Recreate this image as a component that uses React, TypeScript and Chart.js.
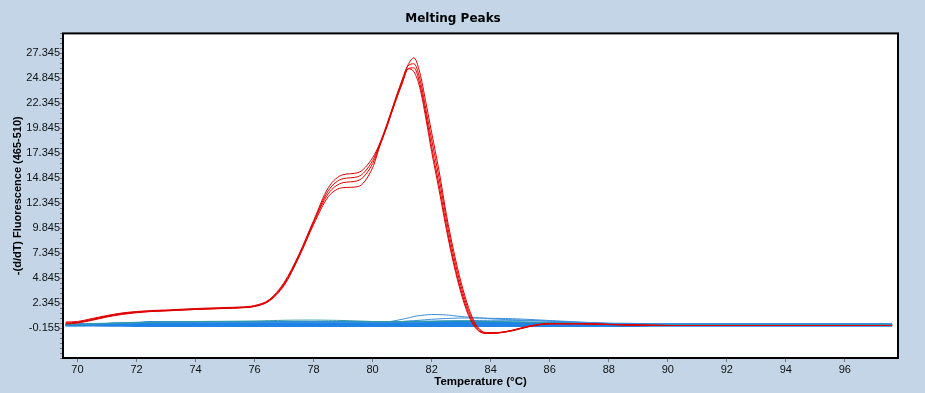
import { useEffect, useRef } from 'react';
import { Chart, registerables } from 'chart.js';

Chart.register(...registerables);

const chartTitle = 'Melting Peaks';
const xAxisTitle = 'Temperature (°C)';
const yAxisTitle = '-(d/dT) Fluorescence (465-510)';

const xTicks = [70, 72, 74, 76, 78, 80, 82, 84, 86, 88, 90, 92, 94, 96];
const yTicks = [-0.155, 2.345, 4.845, 7.345, 9.845, 12.345, 14.845, 17.345, 19.845, 22.345, 24.845, 27.345];
const yTickLabels = ['-0.155', '2.345', '4.845', '7.345', '9.845', '12.345', '14.845', '17.345', '19.845', '22.345', '24.845', '27.345'];

// Red samples (4 replicates)
const redTemps = [69.6, 70, 70.5, 71, 71.5, 72, 72.5, 73, 74, 75, 75.5, 76, 76.5, 77, 77.5, 78, 78.5, 79, 79.5, 80,
  80.25, 80.5, 80.75, 81, 81.2, 81.4, 81.6, 81.8, 82, 82.25, 82.5, 82.75, 83, 83.25, 83.5, 83.85, 84.25, 84.75, 85.3,
  86, 87, 88, 89, 90, 92, 94, 96, 97.6];
const redA = [0.45, 0.5, 0.8, 1.1, 1.35, 1.5, 1.6, 1.65, 1.8, 1.9, 1.95, 2.1, 2.7, 4.4, 7.2, 10.6, 13.9, 15.2, 15.4, 16.9,
  18.4, 20.4, 22.6, 24.7, 26.2, 26.9, 25.4, 22.5, 19.4, 15.6, 11.2, 7.5, 4.4, 1.9, 0.2, -0.6, -0.6, -0.35, 0.05,
  0.3, 0.3, 0.22, 0.15, 0.1, 0.1, 0.1, 0.1, 0.1];
const redB = [0.35, 0.42, 0.72, 1.05, 1.3, 1.45, 1.55, 1.6, 1.75, 1.85, 1.9, 2.05, 2.65, 4.3, 7.1, 10.5, 13.6, 14.8, 15.0, 16.6,
  18.3, 20.3, 22.5, 24.6, 26.1, 26.3, 24.8, 21.8, 18.7, 14.9, 10.7, 7.0, 4.0, 1.6, 0.05, -0.65, -0.62, -0.38, 0.02,
  0.28, 0.28, 0.2, 0.14, 0.1, 0.1, 0.1, 0.1, 0.1];
const redC = [0.3, 0.38, 0.68, 1.0, 1.25, 1.42, 1.52, 1.58, 1.72, 1.82, 1.88, 2.02, 2.6, 4.2, 7.0, 10.4, 13.3, 14.4, 14.6, 16.3,
  18.2, 20.2, 22.4, 24.4, 25.8, 25.9, 24.3, 21.3, 18.0, 14.2, 10.1, 6.5, 3.6, 1.3, -0.1, -0.68, -0.65, -0.4, 0.0,
  0.27, 0.27, 0.2, 0.13, 0.1, 0.1, 0.1, 0.1, 0.1];
const redD = [0.25, 0.35, 0.62, 0.95, 1.2, 1.38, 1.5, 1.56, 1.7, 1.8, 1.86, 2.0, 2.55, 4.1, 6.9, 10.2, 13.0, 13.9, 14.0, 15.9,
  18.1, 20.1, 22.3, 24.3, 25.8, 25.5, 23.9, 20.9, 17.5, 13.7, 9.7, 6.2, 3.3, 1.1, -0.2, -0.7, -0.66, -0.42, -0.02,
  0.26, 0.26, 0.19, 0.13, 0.1, 0.1, 0.1, 0.1, 0.1];

// Blue / teal samples (negative and background curves)
const blueTemps = [69.6, 70, 71, 72, 72.5, 73, 74, 75, 76, 77, 78, 79, 80, 80.5, 81, 81.5, 82, 82.5, 83, 83.5, 84, 84.5,
  85, 86, 87, 88, 89, 90, 92, 94, 96, 97.6];
const blue1 = [0.1, 0.1, 0.08, 0.06, 0.06, 0.06, 0.06, 0.06, 0.06, 0.06, 0.06, 0.06, 0.06, 0.06, 0.06, 0.06, 0.06, 0.06,
  0.06, 0.06, 0.06, 0.06, 0.06, 0.06, 0.06, 0.06, 0.06, 0.08, 0.08, 0.08, 0.08, 0.08];
const blue2 = [0.12, 0.13, 0.15, 0.18, 0.2, 0.2, 0.2, 0.2, 0.2, 0.18, 0.18, 0.18, 0.18, 0.18, 0.18, 0.2, 0.2, 0.2,
  0.2, 0.2, 0.2, 0.2, 0.2, 0.2, 0.18, 0.16, 0.15, 0.14, 0.14, 0.14, 0.14, 0.14];
const blue3 = [0.15, 0.17, 0.22, 0.27, 0.3, 0.32, 0.32, 0.32, 0.3, 0.3, 0.3, 0.3, 0.3, 0.3, 0.3, 0.32, 0.35, 0.35,
  0.35, 0.35, 0.33, 0.32, 0.3, 0.28, 0.26, 0.24, 0.22, 0.2, 0.2, 0.2, 0.2, 0.2];
const blue4 = [0.18, 0.2, 0.28, 0.38, 0.44, 0.45, 0.45, 0.45, 0.44, 0.45, 0.45, 0.45, 0.45, 0.45, 0.46, 0.47, 0.47, 0.47,
  0.47, 0.45, 0.44, 0.42, 0.4, 0.36, 0.32, 0.28, 0.25, 0.22, 0.22, 0.22, 0.22, 0.22];
const bump1 = [0.2, 0.22, 0.3, 0.38, 0.42, 0.44, 0.44, 0.44, 0.44, 0.44, 0.44, 0.44, 0.44, 0.46, 0.72, 1.05, 1.2, 1.15,
  1.0, 0.88, 0.78, 0.7, 0.65, 0.55, 0.38, 0.25, 0.18, 0.15, 0.14, 0.14, 0.14, 0.14];
const bump2 = [0.2, 0.22, 0.3, 0.38, 0.42, 0.44, 0.44, 0.44, 0.44, 0.44, 0.44, 0.44, 0.44, 0.44, 0.5, 0.6, 0.72, 0.8,
  0.85, 0.85, 0.82, 0.8, 0.75, 0.6, 0.45, 0.3, 0.2, 0.16, 0.15, 0.15, 0.15, 0.15];
const bump3 = [0.2, 0.22, 0.3, 0.38, 0.42, 0.44, 0.44, 0.44, 0.44, 0.44, 0.44, 0.44, 0.44, 0.44, 0.44, 0.45, 0.5, 0.55,
  0.58, 0.6, 0.62, 0.62, 0.6, 0.52, 0.42, 0.32, 0.25, 0.2, 0.18, 0.18, 0.18, 0.18];
const teal1 = [0.2, 0.22, 0.3, 0.38, 0.42, 0.46, 0.5, 0.52, 0.55, 0.62, 0.64, 0.6, 0.5, 0.48, 0.48, 0.5, 0.52, 0.55,
  0.55, 0.52, 0.5, 0.48, 0.45, 0.38, 0.3, 0.22, 0.18, 0.16, 0.16, 0.16, 0.16, 0.16];

const RED = '#E00000';
const BLUE = '#1E82E6';
const BLUE_LIGHT = '#3A90DC';
const TEAL = '#2E9E9E';

const toPts = (xs: number[], ys: number[]) => xs.map((x, i) => ({ x, y: ys[i] }));

const framePlugin = {
  id: 'frame',
  beforeDraw(chart: any) {
    const { ctx, chartArea: a, width, height } = chart;
    ctx.save();
    ctx.fillStyle = '#C3D5E6';
    ctx.fillRect(0, 0, width, height);
    ctx.fillStyle = '#FFFFFF';
    ctx.fillRect(a.left, a.top, a.right - a.left, a.bottom - a.top);
    ctx.restore();
  },
  afterDraw(chart: any) {
    const { ctx, chartArea: a } = chart;
    ctx.save();
    ctx.strokeStyle = '#000000';
    ctx.lineWidth = 2;
    ctx.strokeRect(a.left, a.top, a.right - a.left, a.bottom - a.top);
    ctx.restore();
  },
};

export default function App() {
  const ref = useRef<HTMLCanvasElement | null>(null);

  useEffect(() => {
    document.body.style.margin = '0';
    const canvas = ref.current;
    if (!canvas) return;

    const red = (d: number[]) => ({
      data: toPts(redTemps, d),
      borderColor: RED,
      borderWidth: 1,
      pointRadius: 0,
      cubicInterpolationMode: 'monotone' as const,
    });
    const blue = (d: number[], w: number, c: string) => ({
      data: toPts(blueTemps, d),
      borderColor: c,
      borderWidth: w,
      pointRadius: 0,
      tension: 0.25,
    });

    const yMin = -3.155;
    const yMax = 29.345;

    const chart = new Chart(canvas, {
      type: 'line',
      data: {
        datasets: [
          red(redA),
          red(redB),
          red(redC),
          red(redD),
          blue(teal1, 1, TEAL),
          blue(bump1, 1, BLUE_LIGHT),
          blue(bump2, 1, BLUE_LIGHT),
          blue(bump3, 1, BLUE_LIGHT),
          blue(blue4, 2, BLUE),
          blue(blue3, 2, BLUE),
          blue(blue2, 2, BLUE),
          blue(blue1, 2, BLUE),
        ],
      },
      options: {
        animation: false,
        responsive: false,
        events: [],
        layout: { padding: { left: 8, right: 27, top: 0, bottom: 0 } },
        plugins: {
          legend: { display: false },
          tooltip: { enabled: false },
          title: {
            display: true,
            text: chartTitle,
            color: '#000',
            font: { family: "'DejaVu Sans', sans-serif", size: 12, weight: 'bold' },
            padding: { top: 12, bottom: 7 },
          },
        },
        scales: {
          x: {
            type: 'linear',
            min: 69.51,
            max: 97.8,
            border: { display: false },
            grid: { drawOnChartArea: false, drawTicks: true, tickLength: 4, tickColor: '#777' },
            afterBuildTicks: (scale: any) => {
              scale.ticks = xTicks.map((v) => ({ value: v }));
            },
            afterFit: (scale: any) => {
              scale.height = 35;
            },
            ticks: {
              autoSkip: false,
              maxRotation: 0,
              padding: 1,
              color: '#111',
              font: { family: "'Liberation Sans', Arial, sans-serif", size: 11 },
              callback: (v: any) => String(v),
            },
            title: {
              display: true,
              text: xAxisTitle,
              color: '#000',
              font: { family: "'Liberation Sans', Arial, sans-serif", size: 11.5, weight: 'bold' },
              padding: { top: 0, bottom: 4 },
            },
          },
          y: {
            type: 'linear',
            min: yMin,
            max: yMax,
            border: { display: false },
            grid: { drawOnChartArea: false, drawTicks: true, tickLength: 3, tickColor: '#777' },
            afterBuildTicks: (scale: any) => {
              const t: any[] = [];
              for (let k = -6; k <= 59; k++) {
                const v = yTicks[0] + 0.5 * k;
                if (v >= yMin - 1e-9 && v <= yMax + 1e-9) t.push({ value: v });
              }
              scale.ticks = t;
            },
            afterFit: (scale: any) => {
              scale.width = 55;
            },
            ticks: {
              autoSkip: false,
              padding: 0,
              color: '#111',
              font: { family: "'Liberation Sans', Arial, sans-serif", size: 11 },
              callback: (v: any) => {
                const i = yTicks.findIndex((m) => Math.abs(m - Number(v)) < 1e-6);
                return i >= 0 ? yTickLabels[i] : '';
              },
            },
            title: {
              display: true,
              text: yAxisTitle,
              color: '#000',
              font: { family: "'Liberation Sans', Arial, sans-serif", size: 11, weight: 'bold' },
              padding: { top: 3, bottom: 0 },
            },
          },
        },
      },
      plugins: [framePlugin],
    });

    return () => chart.destroy();
  }, []);

  return (
    <div style={{ width: 925, height: 393 }}>
      <canvas ref={ref} width={925} height={393} style={{ display: 'block' }} />
    </div>
  );
}
